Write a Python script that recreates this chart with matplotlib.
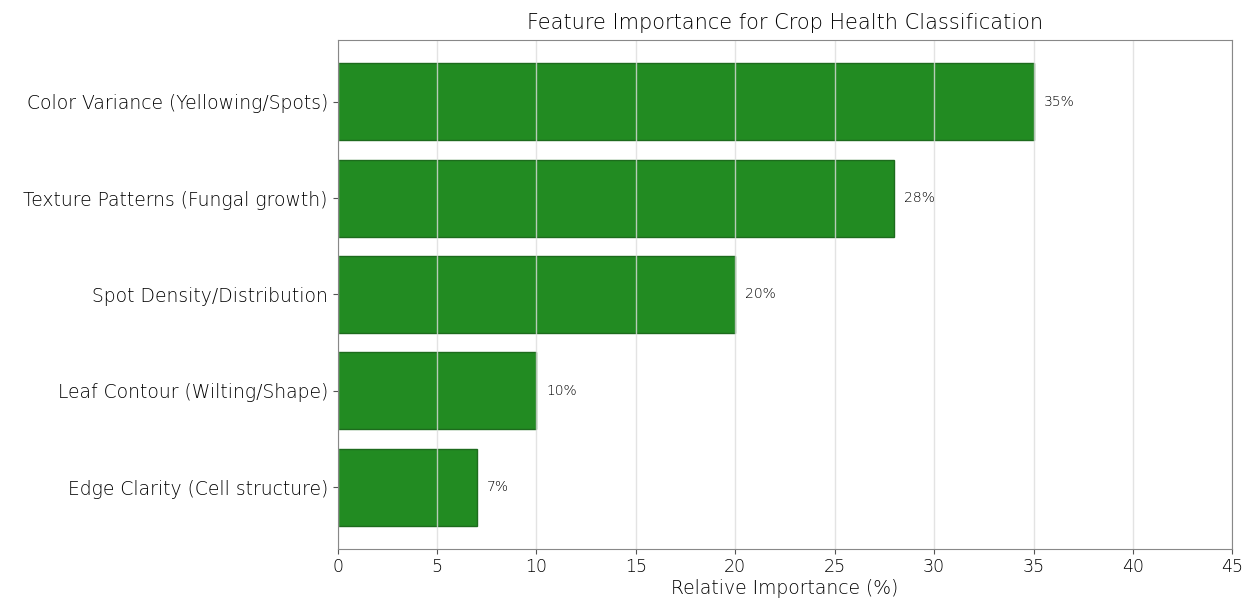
import matplotlib.pyplot as plt

features = [
    'Color Variance (Yellowing/Spots)',
    'Texture Patterns (Fungal growth)',
    'Spot Density/Distribution',
    'Leaf Contour (Wilting/Shape)',
    'Edge Clarity (Cell structure)',
]
importance = [35, 28, 20, 10, 7]

plt.rcParams['font.family'] = ['DejaVu Sans']
plt.rcParams['font.weight'] = 'light'
plt.rcParams['axes.titleweight'] = 'light'
plt.rcParams['axes.labelweight'] = 'light'
plt.rcParams['text.color'] = 'black'
plt.rcParams['xtick.labelcolor'] = 'black'
plt.rcParams['ytick.labelcolor'] = 'black'

fig = plt.figure(figsize=(12.55, 6.01), dpi=100)
ax = fig.add_axes([0.269, 0.087, 0.713, 0.846])

bars = ax.barh(features, importance, color='forestgreen', edgecolor='#1d6b1d', linewidth=1)
ax.invert_yaxis()

# percentage labels just right of each bar
for bar, val in zip(bars, importance):
    ax.text(bar.get_width() + 0.5, bar.get_y() + bar.get_height() / 2, f'{val}%',
            va='center', ha='left', fontsize=10, color='black')

ax.set_xlim(0, 45)
ax.set_xticks(range(0, 46, 5))
ax.grid(axis='x', color='#dddddd', linewidth=1, alpha=0.8)
ax.set_xlabel('Relative Importance (%)', fontsize=13.5, labelpad=2)
ax.set_title('Feature Importance for Crop Health Classification', fontsize=15, pad=8)
ax.tick_params(axis='y', labelsize=13.5, color='#555555')
ax.tick_params(axis='x', labelsize=12.5, color='#555555')
for s in ax.spines.values():
    s.set_color('#888888')

fig.savefig('out.png', dpi=100)
